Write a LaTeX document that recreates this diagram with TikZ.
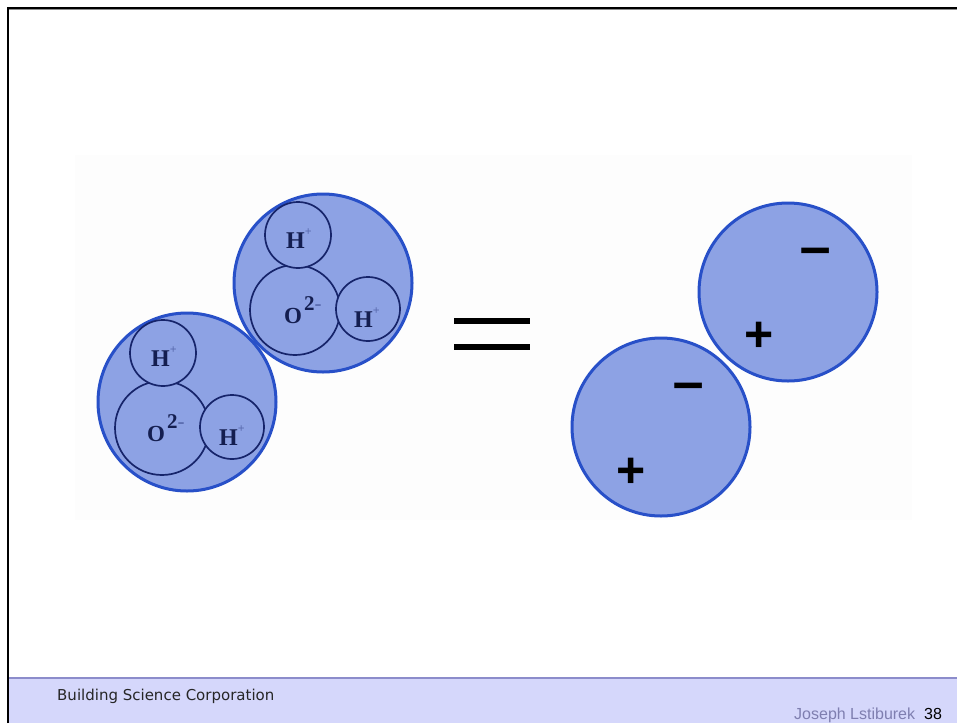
\documentclass[tikz,border=0pt]{standalone}
\usepackage{fontspec}
\setmainfont{Liberation Serif}
\newfontfamily\footfont{DejaVu Sans}
\newfontfamily\armfont{Liberation Sans}
\definecolor{ballfill}{HTML}{8DA2E4}
\definecolor{ballline}{HTML}{2850C8}
\definecolor{innerline}{HTML}{16246A}
\definecolor{footfill}{HTML}{D5D7FB}
\definecolor{footline}{HTML}{8C8CCB}
\definecolor{authorcol}{HTML}{7F7FB0}
\definecolor{atomtext}{HTML}{141E50}
\definecolor{faintmark}{HTML}{5A6CB0}
\definecolor{panel}{HTML}{FDFDFD}
\newcommand{\atomH}{H\raisebox{13pt}{\fontsize{12}{12}\selectfont\color{faintmark}+}}
\newcommand{\atomO}{O\kern2pt\raisebox{13pt}{\fontsize{21}{21}\selectfont 2\color{faintmark}-}}
\tikzset{
  ball/.style={circle,draw=ballline,fill=ballfill,line width=3pt,minimum size=178pt,inner sep=0pt},
  atom/.style={circle,draw=innerline,fill=ballfill,line width=1.7pt,inner sep=0pt},
  labO/.style={inner sep=0pt,anchor=base west,font=\bfseries\fontsize{23}{23}\selectfont,text=atomtext},
  labH/.style={inner sep=0pt,anchor=base west,font=\bfseries\fontsize{24}{24}\selectfont,text=atomtext},
  charge/.style={inner sep=0pt,font=\armfont\bfseries\fontsize{50}{50}\selectfont,text=black},
  eqbar/.style={line width=5.5pt,black},
  footA/.style={inner sep=0pt,anchor=base west,font=\footfont\fontsize{15}{16}\selectfont,text=black!85},
  footB/.style={inner sep=0pt,anchor=base west,font=\armfont\fontsize{16}{17}\selectfont},
}
\begin{document}
\begin{tikzpicture}[x=1pt,y=-1pt]
\useasboundingbox (0,0) rectangle (957,723);
\fill[white] (0,0) rectangle (957,723);
\fill[panel] (75,155) rectangle (912,520);
\draw[black!45,line width=1pt] (9,9.7) -- (957,9.7);
\draw[black,line width=2pt] (8,723) -- (8,8) -- (957,8);
% footer
\fill[footfill] (9,678) rectangle (957,723);
\draw[footline,line width=1.2pt] (9,678) -- (957,678);
\node[footA] (corp) at (57,700) {Building Science Corporation};
\node[footB,text=authorcol] (auth) at (794,719) {Joseph Lstiburek};
\node[footB,text=black] (num) at (924,719) {38};
% left molecules
\node[ball] (m1) at (323,283) {};
\node[ball] (m2) at (187,402) {};
\node[atom,minimum size=90pt] (o1) at (295,310) {};
\node[atom,minimum size=66pt] (h1a) at (298,235) {};
\node[atom,minimum size=64pt] (h1b) at (368,309) {};
\node[atom,minimum size=94pt] (o2) at (162,428) {};
\node[atom,minimum size=66pt] (h2a) at (163,353) {};
\node[atom,minimum size=64pt] (h2b) at (232,427) {};
\node[labO] (to1) at (284,323) {\atomO};
\node[labH] (th1a) at (286,248) {\atomH};
\node[labH] (th1b) at (354,327) {\atomH};
\node[labO] (to2) at (147,441) {\atomO};
\node[labH] (th2a) at (151,366) {\atomH};
\node[labH] (th2b) at (219,445) {\atomH};
% equals
\coordinate (e1a) at (454,321); \coordinate (e1b) at (530,321);
\coordinate (e2a) at (454,347); \coordinate (e2b) at (530,347);
\draw[eqbar] (e1a) -- (e1b);
\draw[eqbar] (e2a) -- (e2b);
% right balls
\node[ball] (b1) at (788,292) {};
\node[ball] (b2) at (661,427) {};
\node[charge] (p1) at (759,337) {+};
\node[charge] (n1) at (816,258) {\scalebox{1.1}[1]{\char"2212}};
\node[charge] (p2) at (631,473) {+};
\node[charge] (n2) at (689,393) {\scalebox{1.1}[1]{\char"2212}};
\end{tikzpicture}
\end{document}
